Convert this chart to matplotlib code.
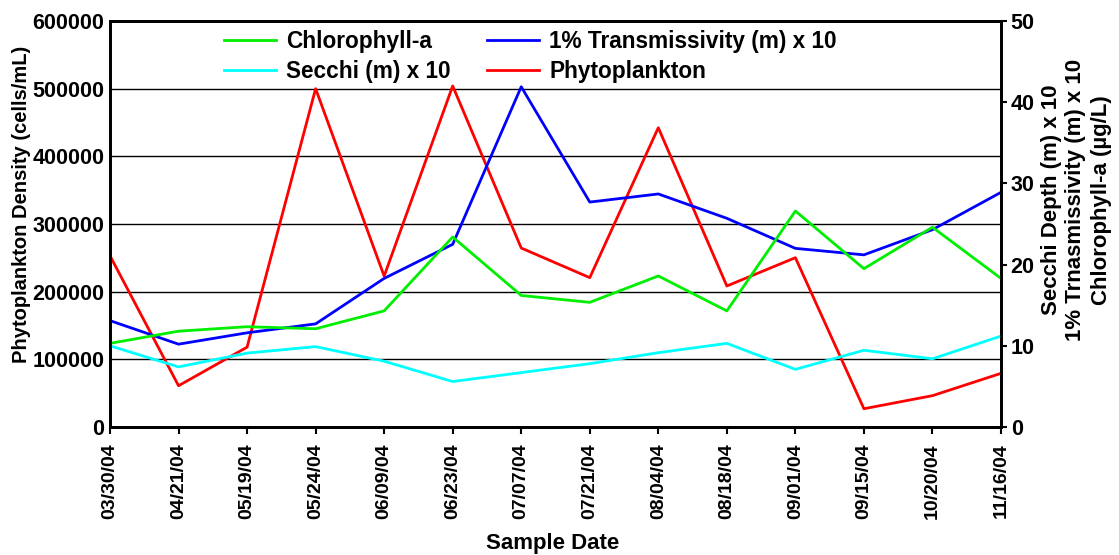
import matplotlib
matplotlib.use("Agg")
import matplotlib.pyplot as plt

dates = ["03/30/04", "04/21/04", "05/19/04", "05/24/04", "06/09/04", "06/23/04", "07/07/04",
         "07/21/04", "08/04/04", "08/18/04", "09/01/04", "09/15/04", "10/20/04", "11/16/04"]
phyto = [253000, 61000, 118000, 500000, 223000, 504000, 264500,
         220700, 442300, 208400, 250200, 27000, 46300, 79300]
transmiss = [13.1, 10.2, 11.6, 12.7, 18.3, 22.5, 41.9,
             27.7, 28.7, 25.7, 22.0, 21.2, 24.3, 28.9]
chla = [10.3, 11.8, 12.35, 12.1, 14.3, 23.4, 16.2,
        15.35, 18.6, 14.3, 26.6, 19.5, 24.6, 18.3]
secchi = [10.0, 7.4, 9.1, 9.9, 8.1, 5.6, 6.7,
          7.8, 9.15, 10.3, 7.1, 9.45, 8.4, 11.2]
left_ticks = [0, 100000, 200000, 300000, 400000, 500000, 600000]
right_ticks = [0, 10, 20, 30, 40, 50]

plt.rcParams['font.family'] = ['Liberation Sans', 'DejaVu Sans']
plt.rcParams['font.weight'] = 'bold'

fig = plt.figure(figsize=(11.19, 5.55), dpi=100)
ax = fig.add_axes([110/1119, 1-427/555, (1001-110)/1119, (427-21)/555])
ax2 = ax.twinx()

x = list(range(len(dates)))
lw = 2.0
lp, = ax.plot(x, phyto, color='#FF0000', lw=lw, zorder=3)
lt, = ax2.plot(x, transmiss, color='#0000FF', lw=lw)
lc, = ax2.plot(x, chla, color='#00EE00', lw=lw)
ls, = ax2.plot(x, secchi, color='#00FFFF', lw=lw)

ax.set_xlim(0, len(dates)-1)
ax.set_ylim(0, 600000)
ax2.set_ylim(0, 50)
ax.set_yticks(left_ticks)
ax.set_yticklabels([str(v) for v in left_ticks], fontsize=15.5, fontweight='bold')
ax2.set_yticks(right_ticks)
ax2.set_yticklabels([str(v) for v in right_ticks], fontsize=15.5, fontweight='bold')
ax.set_xticks(x)
ax.set_xticklabels(dates, rotation=90, fontsize=14, fontweight='bold')
ax.grid(axis='y', color='black', lw=1.0)
ax.set_axisbelow(True)
ax.tick_params(axis='y', length=0, pad=4)
ax.tick_params(axis='x', length=5, width=1.5, direction='out', pad=7)
ax2.tick_params(axis='y', length=4, width=1.5, pad=3)
for a in (ax, ax2):
    for s in a.spines.values():
        s.set_linewidth(2.0)

fig.text(22/1119, 1-204/555, "Phytoplankton Density (cells/mL)", rotation=90,
         ha='center', va='center', fontsize=14.5, fontweight='bold')
fig.text(1076/1119, 1-200/555, "Secchi Depth (m) x 10\n1% Trnasmissivity (m) x 10\nChlorophyll-a (µg/L)",
         rotation=90, ha='center', va='center', fontsize=16, fontweight='bold',
         multialignment='center', linespacing=1.25)
fig.text(553/1119, 1-543/555, "Sample Date", ha='center', va='center',
         fontsize=16, fontweight='bold')

leg = ax2.legend([lc, ls, lt, lp],
                 ["Chlorophyll-a", "Secchi (m) x 10", "1% Transmissivity (m) x 10", "Phytoplankton"],
                 ncol=2, loc='upper left', bbox_to_anchor=(224/1119, 1-30/555),
                 bbox_transform=fig.transFigure, frameon=False,
                 prop={'size': 16.3, 'weight': 'bold'}, handlelength=2.3,
                 columnspacing=1.6, labelspacing=0.3, handletextpad=0.45,
                 borderaxespad=0, borderpad=0)

fig.savefig("out.png", dpi=100)
